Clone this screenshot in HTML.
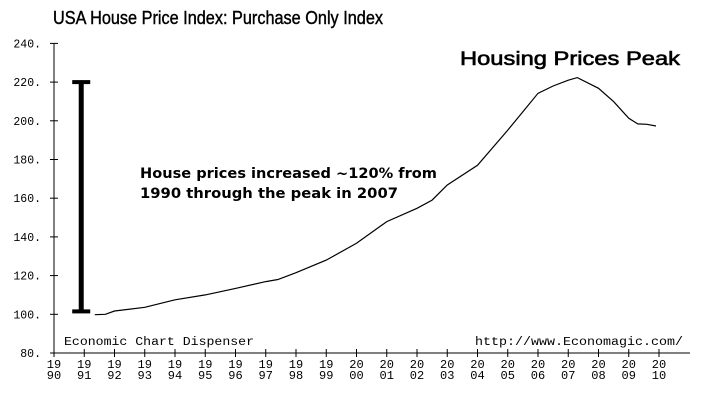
<!DOCTYPE html>
<html><head><meta charset="utf-8"><style>
html,body{margin:0;padding:0;background:#fff;}
svg{display:block;}
</style></head><body>
<svg id="chart" width="720" height="411" viewBox="0 0 720 411" xmlns="http://www.w3.org/2000/svg">
<text x="53" y="24" font-family="Liberation Sans, sans-serif" font-size="18" stroke="#000" stroke-width="0.4" textLength="330" lengthAdjust="spacingAndGlyphs" fill="#000">USA House Price Index: Purchase Only Index</text>
<text x="460" y="65" font-family="Liberation Sans, sans-serif" font-size="19" stroke="#000" stroke-width="0.6" textLength="220" lengthAdjust="spacingAndGlyphs" fill="#000">Housing Prices Peak</text>
<text x="140" y="178" font-family="DejaVu Sans, sans-serif" font-weight="bold" font-size="14.5" textLength="297" lengthAdjust="spacingAndGlyphs">House prices increased ~120% from</text>
<text x="140" y="198" font-family="DejaVu Sans, sans-serif" font-weight="bold" font-size="14.5" textLength="258" lengthAdjust="spacingAndGlyphs">1990 through the peak in 2007</text>
<text x="64" y="345" font-family="Liberation Mono, monospace" font-size="11.5" textLength="190" lengthAdjust="spacingAndGlyphs">Economic Chart Dispenser</text>
<text x="475" y="345" font-family="Liberation Mono, monospace" font-size="11.5" textLength="208" lengthAdjust="spacingAndGlyphs">http://www.Economagic.com/</text>
<g id="axes"></g>
<g id="marks"></g>
</svg>
<script>
const yTicks = [80,100,120,140,160,180,200,220,240];
const xYears = [1990,1991,1992,1993,1994,1995,1996,1997,1998,1999,2000,2001,2002,2003,2004,2005,2006,2007,2008,2009,2010];
const seriesX = [1991.35,1991.7,1992,1993,1994,1995,1996,1997,1997.4,1998,1999,2000,2001,2002,2002.5,2003,2004,2005,2005.5,2006,2006.5,2007,2007.3,2008,2008.5,2009,2009.3,2009.6,2009.9];
const seriesY = [99.8,100,101.7,103.6,107.5,110,113.4,116.9,118,121.5,128,136.7,147.9,154.8,159,166.8,177,195.2,204.7,214.2,218,221,222.3,216.8,209.9,201.3,198.4,198.2,197.3];
const rangeBar = [101.5, 220];
const rangeBarYear = 1990.9;

const NS = "http://www.w3.org/2000/svg";
const x = yr => 54 + (yr - 1990) * 30.25;
const y = v => 353 - (v - 80) * (38.7 / 20);
function mk(tag, attrs, parent){const e=document.createElementNS(NS,tag);for(const k in attrs)e.setAttribute(k,attrs[k]);parent.appendChild(e);return e;}
const axes = document.getElementById('axes'), marks = document.getElementById('marks');

const ya = mk('line',{x1:54,y1:y(240),x2:54,y2:353,stroke:'#000','stroke-width':1},axes);


const xa = mk('line',{x1:54,y1:353,x2:690,y2:353,stroke:'#000','stroke-width':1},axes);



yTicks.forEach(t=>{
  const tk = mk('line',{x1:50,y1:y(t),x2:58,y2:y(t),stroke:'#000'},axes);
  
  
  const lb = mk('text',{x:41,y:y(t)+4,'text-anchor':'end','font-family':'Liberation Mono, monospace','font-size':'11.5'},axes);
  lb.textContent = t + '.';
  
  
});
xYears.forEach(t=>{
  const tk = mk('line',{x1:x(t),y1:349,x2:x(t),y2:357,stroke:'#000'},axes);
  
  
  const s = String(t);
  const l1 = mk('text',{x:x(t),y:368,'text-anchor':'middle','font-family':'Liberation Mono, monospace','font-size':'12'},axes);
  l1.textContent = s.slice(0,2);
  
  
  const l2 = mk('text',{x:x(t),y:379,'text-anchor':'middle','font-family':'Liberation Mono, monospace','font-size':'12'},axes);
  l2.textContent = s.slice(2);
  
  
});

const d = seriesX.map((v,i)=>(i?'L':'M')+x(v).toFixed(1)+','+y(seriesY[i]).toFixed(1)).join(' ');
const line = mk('path',{d:d,fill:'none',stroke:'#000','stroke-width':1.2},marks);



const bx = x(rangeBarYear);
const bar = mk('line',{x1:bx,y1:y(rangeBar[1]),x2:bx,y2:y(rangeBar[0]),stroke:'#000','stroke-width':5},marks);


rangeBar.forEach(v=>{
  const c = mk('rect',{x:bx-9,y:y(v)-2,width:18,height:4,fill:'#000'},marks);
  
  
});
</script>
</body></html>
